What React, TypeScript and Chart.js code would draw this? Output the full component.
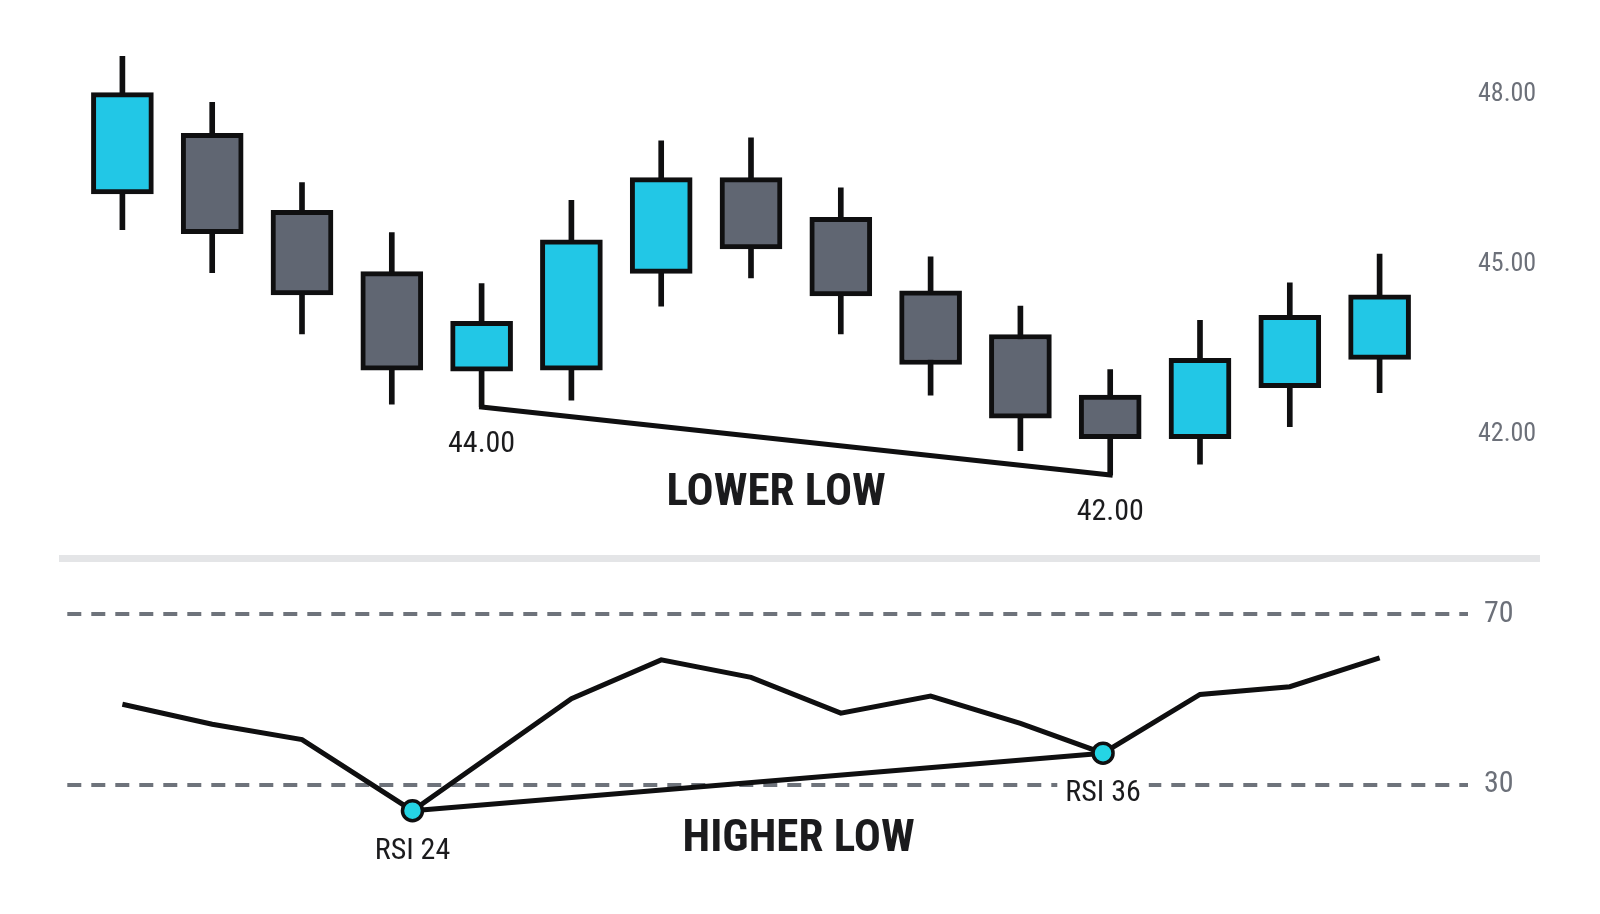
import { useEffect, useRef } from "react";
import Chart from "chart.js/auto";

const FONT =
  '"Roboto Condensed", "Liberation Sans Narrow", "DejaVu Sans Condensed", Roboto, sans-serif';
const INK = "#0f0f10";
const TEXT = "#1b1b1d";
const AXIS_GRAY = "#6c7079";
const DASH_GRAY = "#6e737b";
const BULL = "#22c7e6";
const BEAR = "#606672";
const MARKER = "#25d4e4";

// price candles
const candleLabels = ["1", "2", "3", "4", "5", "6", "7", "8", "9", "10", "11", "12", "13", "14", "15"];
const opens = [46.25, 47.32, 45.96, 44.88, 43.12, 43.14, 44.85, 46.54, 45.84, 44.54, 43.77, 42.7, 41.93, 42.83, 43.33];
const closes = [48.04, 45.55, 44.47, 43.14, 44.0, 45.44, 46.54, 45.28, 44.45, 43.24, 42.29, 41.93, 43.35, 44.11, 44.47];
const highs = [48.68, 47.87, 46.45, 45.57, 44.67, 46.14, 47.19, 47.24, 46.36, 45.14, 44.27, 43.15, 44.02, 44.68, 45.19];
const lows = [45.62, 44.86, 43.78, 42.54, 42.49, 42.61, 44.27, 44.77, 43.78, 42.7, 41.72, 41.29, 41.48, 42.14, 42.74];
const priceTicks = [42, 45, 48];

// swing lows joined by the "lower low" line
const swingLowIndex = [4, 11];
const swingLowLabels = ["44.00", "42.00"];

// RSI pane
const rsiX = [0, 1, 2, 3.23, 5, 6, 7, 8, 9, 10, 10.92, 12, 13, 14];
const rsiValues = [48.9, 44.2, 40.6, 23.9, 50.2, 59.3, 55.2, 46.8, 50.8, 44.4, 37.4, 51.2, 53.0, 59.8];
const rsiTicks = [30, 70];
const divergenceX = [3.23, 10.92];
const divergenceValues = [23.9, 37.4];
const divergenceLabels = ["RSI 24", "RSI 36"];

const priceNotes = {
  id: "priceNotes",
  afterDatasetsDraw(chart: any) {
    const { ctx } = chart;
    const x = chart.scales.x;
    const y = chart.scales.y;
    ctx.save();
    ctx.fillStyle = TEXT;
    ctx.textAlign = "center";
    ctx.textBaseline = "alphabetic";
    ctx.font = `30px ${FONT}`;
    swingLowIndex.forEach((i, k) => {
      ctx.fillText(swingLowLabels[k], x.getPixelForValue(i), y.getPixelForValue(lows[i]) + 45);
    });
    ctx.font = `bold 45px ${FONT}`;
    ctx.fillText("LOWER LOW", x.getPixelForValue(7.28), y.getPixelForValue(40.76));
    ctx.restore();
  },
};

const rsiNotes = {
  id: "rsiNotes",
  afterDatasetsDraw(chart: any) {
    const { ctx } = chart;
    const x = chart.scales.x;
    const y = chart.scales.y;
    ctx.save();
    ctx.textAlign = "center";
    ctx.textBaseline = "alphabetic";
    ctx.font = `30px ${FONT}`;
    divergenceX.forEach((v, k) => {
      const px = x.getPixelForValue(v);
      const py = y.getPixelForValue(divergenceValues[k]) + 48;
      const w = ctx.measureText(divergenceLabels[k]).width;
      ctx.fillStyle = "#ffffff";
      ctx.fillRect(px - w / 2 - 8, py - 26, w + 16, 32);
      ctx.fillStyle = TEXT;
      ctx.fillText(divergenceLabels[k], px, py);
    });
    ctx.font = `bold 45px ${FONT}`;
    ctx.fillText("HIGHER LOW", x.getPixelForValue(7.53), y.getPixelForValue(14.44));
    ctx.restore();
  },
};

function PriceChart() {
  const ref = useRef<HTMLCanvasElement | null>(null);
  useEffect(() => {
    if (!ref.current) return;
    const ctx = ref.current.getContext("2d");
    if (!ctx) return;

    const bodies = opens.map((o, i) => [o, closes[i]]);
    const wicks = lows.map((l, i) => [l, highs[i]]);
    const bodyColors = opens.map((o, i) => (closes[i] >= o ? BULL : BEAR));
    const lowLine = lows.map((l, i) => (swingLowIndex.includes(i) ? l : null));

    const chart = new Chart(ctx, {
      type: "bar",
      data: {
        labels: candleLabels,
        datasets: [
          {
            type: "line",
            data: lowLine as any,
            borderColor: INK,
            borderWidth: 5,
            pointRadius: 0,
            spanGaps: true,
            borderCapStyle: "square",
            order: 0,
          },
          {
            type: "bar",
            data: bodies as any,
            backgroundColor: bodyColors,
            borderColor: INK,
            borderWidth: 5,
            borderSkipped: false,
            barThickness: 62,
            grouped: false,
            order: 1,
          },
          {
            type: "bar",
            data: wicks as any,
            backgroundColor: INK,
            borderWidth: 0,
            barThickness: 5,
            grouped: false,
            order: 2,
          },
        ],
      },
      options: {
        animation: false,
        responsive: true,
        maintainAspectRatio: false,
        layout: { autoPadding: false, padding: { left: 77.5, right: 0, top: 0, bottom: 0 } },
        plugins: { legend: { display: false }, tooltip: { enabled: false } },
        scales: {
          x: { display: false, offset: true },
          y: {
            position: "right",
            min: 39.964,
            max: 49.676,
            afterBuildTicks: (s: any) => {
              s.ticks = priceTicks.map((v) => ({ value: v }));
            },
            afterFit: (s: any) => {
              s.width = 175.5;
              s.paddingTop = 0;
              s.paddingBottom = 0;
            },
            ticks: {
              padding: 53.5,
              color: AXIS_GRAY,
              font: { family: FONT, size: 26 },
              callback: (v: any) => Number(v).toFixed(2),
            },
            grid: { display: false, drawTicks: false },
            border: { display: false },
          },
        },
      },
      plugins: [priceNotes],
    });
    return () => chart.destroy();
  }, []);
  return <canvas ref={ref} style={{ display: "block" }} />;
}

function RsiChart() {
  const ref = useRef<HTMLCanvasElement | null>(null);
  useEffect(() => {
    if (!ref.current) return;
    const ctx = ref.current.getContext("2d");
    if (!ctx) return;

    const chart = new Chart(ctx, {
      type: "line",
      data: {
        datasets: [
          {
            data: divergenceX.map((x, i) => ({ x, y: divergenceValues[i] })),
            borderColor: INK,
            borderWidth: 5,
            pointRadius: 10,
            pointBorderWidth: 3.5,
            pointBackgroundColor: MARKER,
            pointBorderColor: INK,
          },
          {
            data: rsiX.map((x, i) => ({ x, y: rsiValues[i] })),
            borderColor: INK,
            borderWidth: 5,
            pointRadius: 0,
            tension: 0,
          },
        ],
      },
      options: {
        animation: false,
        responsive: true,
        maintainAspectRatio: false,
        layout: { autoPadding: false, padding: { left: 67.3, right: 0, top: 0, bottom: 0 } },
        plugins: { legend: { display: false }, tooltip: { enabled: false } },
        scales: {
          x: { type: "linear", min: -0.6136, max: 14.984, display: false },
          y: {
            position: "right",
            min: -0.35,
            max: 80.4,
            afterBuildTicks: (s: any) => {
              s.ticks = rsiTicks.map((v) => ({ value: v }));
            },
            afterFit: (s: any) => {
              s.width = 132;
              s.paddingTop = 0;
              s.paddingBottom = 0;
            },
            ticks: {
              padding: 16,
              color: AXIS_GRAY,
              font: { family: FONT, size: 30 },
            },
            grid: { color: DASH_GRAY, lineWidth: 4, drawTicks: false },
            border: { display: false, dash: [14, 10] },
          },
        },
      },
      plugins: [rsiNotes],
    });
    return () => chart.destroy();
  }, []);
  return <canvas ref={ref} style={{ display: "block" }} />;
}

export default function App() {
  useEffect(() => {
    document.body.style.margin = "0";
  }, []);
  return (
    <div style={{ position: "absolute", left: 0, top: 0, width: 1600, height: 914, background: "#ffffff", overflow: "hidden" }}>
      <div style={{ position: "absolute", left: 0, top: 0, width: 1600, height: 550 }}>
        <PriceChart />
      </div>
      <div style={{ position: "absolute", left: 59, top: 555, width: 1481, height: 7, background: "#e4e5e7" }} />
      <div style={{ position: "absolute", left: 0, top: 570, width: 1600, height: 344 }}>
        <RsiChart />
      </div>
    </div>
  );
}
